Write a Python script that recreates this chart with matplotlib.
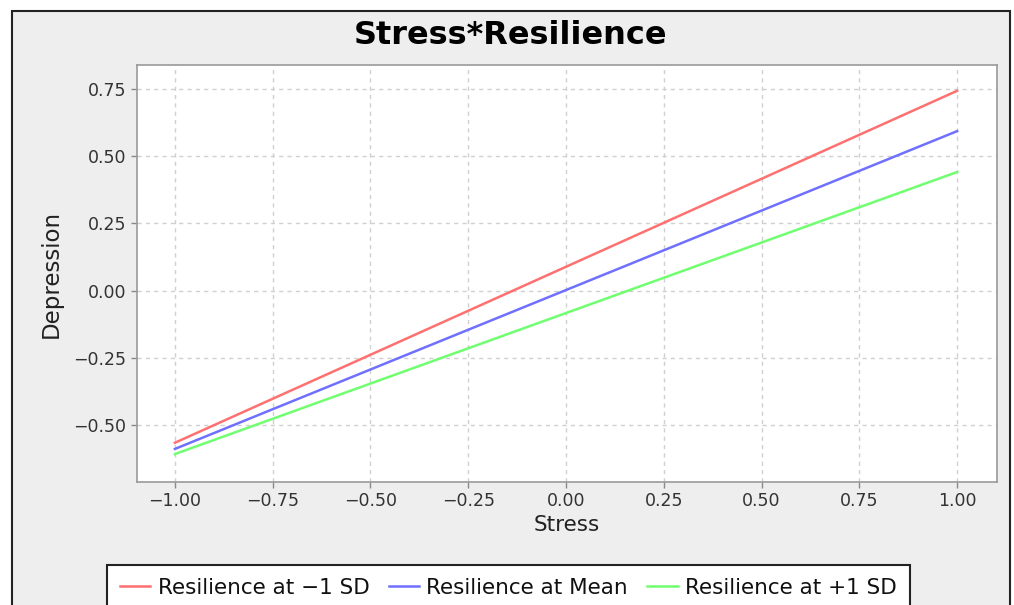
import matplotlib
matplotlib.use("Agg")
import matplotlib.pyplot as plt
from matplotlib.patches import Rectangle

# data
stress = [-1.0, 1.0]
low_sd = [-0.566, 0.743]
at_mean = [-0.589, 0.593]
high_sd = [-0.608, 0.441]
labels = ["Resilience at \u22121 SD", "Resilience at Mean", "Resilience at +1 SD"]
colors = ["#ff7070", "#7070ff", "#70ff70"]
xticks = [-1.0, -0.75, -0.5, -0.25, 0.0, 0.25, 0.5, 0.75, 1.0]
yticks = [-0.5, -0.25, 0.0, 0.25, 0.5, 0.75]

W, H = 1014, 605
fig = plt.figure(figsize=(W / 100, H / 100), dpi=100)
fig.patch.set_facecolor("white")

# chart panel with dark frame
fig.patches.append(Rectangle((12 / W, -0.05), (1010 - 12) / W, 1.05 - 11 / H,
                             transform=fig.transFigure, facecolor="#eeeeee",
                             edgecolor="#222222", linewidth=1.5, zorder=-10))

ax = fig.add_axes([137 / W, 1 - 482 / H, (997 - 137) / W, (482 - 65) / H])
ax.set_facecolor("white")

for ys, lab, c in zip([low_sd, at_mean, high_sd], labels, colors):
    ax.plot(stress, ys, color=c, linewidth=1.8, label=lab)

ax.set_xlim(-1.097, 1.102)
ax.set_ylim(-0.712, 0.839)
ax.set_xticks(xticks)
ax.set_yticks(yticks)
ax.set_xticklabels([f"{v:.2f}".replace("-", "\u2212") for v in xticks])
ax.set_yticklabels([f"{v:.2f}".replace("-", "\u2212") for v in yticks])
ax.tick_params(labelsize=12.5, colors="#888888", labelcolor="#333333", length=4, width=1)
ax.grid(True, color="#d0d0d0", linestyle=(0, (3, 3)), linewidth=1)
for s in ax.spines.values():
    s.set_color("#999999")
    s.set_linewidth(1.2)

ax.set_xlabel("Stress", fontsize=15.5, color="#222222", labelpad=3)
ax.set_ylabel("Depression", fontsize=16.5, color="#222222", labelpad=8)

fig.text(511 / W, 1 - 36 / H, "Stress*Resilience", fontsize=23, fontweight="bold",
         ha="center", va="center", color="black")

leg = ax.legend(loc="upper left", bbox_to_anchor=(107 / W, 1 - 565 / H),
                bbox_transform=fig.transFigure, ncol=3, fontsize=15.5,
                frameon=True, fancybox=False, edgecolor="#222222",
                facecolor="white", framealpha=1,
                handlelength=1.4, handletextpad=0.35, columnspacing=0.9,
                borderpad=0.6, borderaxespad=0)
leg.get_frame().set_linewidth(1.5)
for t in leg.get_texts():
    t.set_color("#111111")

fig.savefig("out.png", dpi=100)
